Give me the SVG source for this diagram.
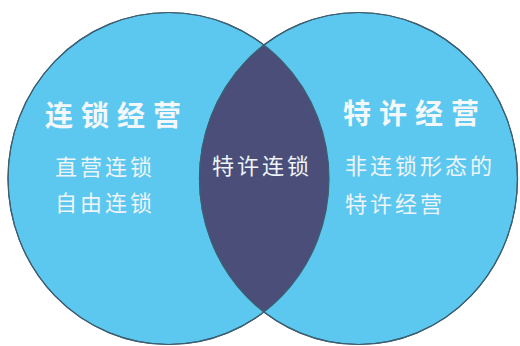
<svg xmlns="http://www.w3.org/2000/svg" width="520" height="346" viewBox="0 0 520 346">
  <style>
    .circle { fill: #5cc8f0; stroke: #3d5f72; stroke-width: 1.2; }
    .lens { fill: #4a4e78; }
    .edge { fill: none; stroke: #3d5f72; stroke-width: 1.2; }
    .title { font-family: "Noto Sans CJK SC", "Noto Sans CJK JP", sans-serif; font-weight: bold; font-size: 28px; fill: #f4f8fa; letter-spacing: 8px; }
    .label { font-family: "Noto Sans CJK SC", "Noto Sans CJK JP", sans-serif; font-size: 22px; fill: #eef4f8; letter-spacing: 3px; }
  </style>
  <defs>
    <clipPath id="clipLeft">
      <ellipse cx="168.5" cy="178.5" rx="160.5" ry="166"/>
    </clipPath>
  </defs>
  <rect width="520" height="346" fill="#ffffff"/>
  <g id="chain">
    <ellipse class="circle" cx="168.5" cy="178.5" rx="160.5" ry="166"/>
  </g>
  <g id="franchise">
    <ellipse class="circle" cx="358.5" cy="178.5" rx="159" ry="166"/>
  </g>
  <g id="overlap">
    <ellipse class="lens" cx="358.5" cy="178.5" rx="159" ry="166" clip-path="url(#clipLeft)"/>
    <ellipse class="edge" cx="168.5" cy="178.5" rx="160.5" ry="166"/>
    <ellipse class="edge" cx="358.5" cy="178.5" rx="159" ry="166"/>
  </g>
  <g id="chain-text">
    <text class="title" x="45" y="126">连锁经营</text>
    <text class="label" x="55" y="175">直营连锁</text>
    <text class="label" x="55" y="211">自由连锁</text>
  </g>
  <g id="overlap-text">
    <text class="label" x="212" y="174" letter-spacing="2">特许连锁</text>
  </g>
  <g id="franchise-text">
    <text class="title" x="343" y="124">特许经营</text>
    <text class="label" x="345" y="174">非连锁形态的</text>
    <text class="label" x="345" y="212" letter-spacing="1">特许经营</text>
  </g>
</svg>
